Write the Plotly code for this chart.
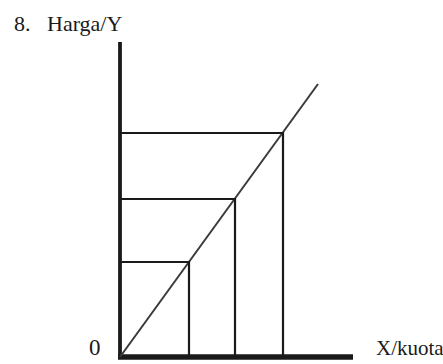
import plotly.graph_objects as go

# Supply curve through the origin and three price/quantity pairs
quantities = [69, 115, 163]
prices = [95, 158, 224]
curve_end = (198, 273)
x_axis_len = 233
y_axis_len = 315

ink = "#1a1a1a"
serif = "'Liberation Serif', 'Times New Roman', Times, serif"

fig = go.Figure()

# Axes drawn as thick lines from the origin
fig.add_trace(go.Scatter(x=[0, 0], y=[0, y_axis_len], mode="lines",
                         line=dict(color=ink, width=3.8), hoverinfo="skip"))
fig.add_trace(go.Scatter(x=[-2, x_axis_len], y=[0, 0], mode="lines",
                         line=dict(color=ink, width=5.5), hoverinfo="skip"))

# Diagonal supply line
fig.add_trace(go.Scatter(x=[0, curve_end[0]], y=[0, curve_end[1]], mode="lines",
                         line=dict(color="#3a3a3a", width=2), hoverinfo="skip"))

# Guide lines from each point to both axes
for q, p in zip(quantities, prices):
    fig.add_trace(go.Scatter(x=[0, q, q], y=[p, p, 0], mode="lines",
                             line=dict(color=ink, width=2.2), hoverinfo="skip"))

fig.add_annotation(x=-108, y=348, xref="x", yref="y", text="8.&nbsp;&nbsp;&nbsp;Harga/Y",
                   showarrow=False, xanchor="left", yanchor="top",
                   font=dict(family=serif, size=22, color=ink))
fig.add_annotation(x=-17, y=-5, xref="x", yref="y", text="0",
                   showarrow=False, xanchor="right", yanchor="bottom",
                   font=dict(family=serif, size=23, color=ink))
fig.add_annotation(x=254, y=-5, xref="x", yref="y", text="X/kuota",
                   showarrow=False, xanchor="left", yanchor="bottom",
                   font=dict(family=serif, size=21, color=ink))

fig.update_layout(
    width=443, height=364,
    margin=dict(l=0, r=0, t=0, b=0),
    paper_bgcolor="white", plot_bgcolor="white",
    showlegend=False,
    xaxis=dict(range=[-120, 323], visible=False, fixedrange=True),
    yaxis=dict(range=[-7, 357], visible=False, fixedrange=True),
)

fig.write_html("out.html")
